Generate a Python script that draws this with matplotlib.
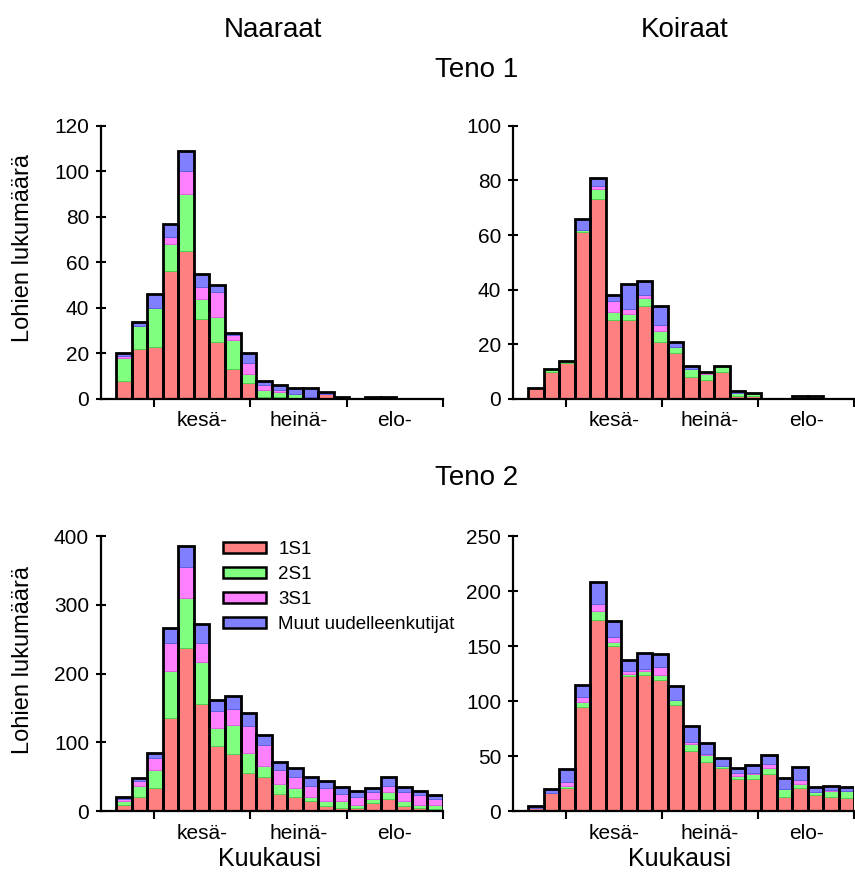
import numpy as np
import matplotlib
matplotlib.use("Agg")
import matplotlib.pyplot as plt
from matplotlib.patches import Patch

plt.rcParams['font.family'] = ['Liberation Sans', 'DejaVu Sans']

# 5 day periods, 21 bins starting late May
n_bins = 21
series_names = ['1S1', '2S1', '3S1', 'Muut uudelleenkutijat']
colors = ['#ff8080', '#80ff80', '#ff80ff', '#8080ff']
edge_colors = ['#e06060', '#50d050', '#e060e0', '#6060e0']
month_labels = ['kesä-', 'heinä-', 'elo-']

# Teno 1, naaraat
t1_f_1s1 = [8, 22, 23, 56, 65, 35, 25, 13, 7, 1, 1, 0, 0, 2, 0, 0, 1, 0, 0, 0, 0]
t1_f_2s1 = [10, 10, 17, 12, 25, 9, 11, 13, 4, 3, 2, 2, 0, 0, 1, 0, 0, 0, 0, 0, 0]
t1_f_3s1 = [1, 0, 0, 3, 10, 5, 11, 2, 5, 2, 1, 0, 1, 0, 0, 0, 0, 0, 0, 0, 0]
t1_f_muut = [1, 2, 6, 6, 9, 6, 3, 1, 4, 2, 2, 3, 4, 1, 0, 0, 0, 1, 0, 0, 0]

# Teno 1, koiraat
t1_m_1s1 = [4, 10, 13, 61, 73, 29, 29, 34, 21, 17, 8, 7, 10, 1, 1, 0, 0, 0, 1, 0, 0]
t1_m_2s1 = [0, 1, 1, 1, 4, 3, 2, 3, 4, 2, 3, 2, 2, 1, 1, 0, 0, 1, 0, 0, 0]
t1_m_3s1 = [0, 0, 0, 0, 1, 4, 2, 1, 2, 0, 0, 1, 0, 0, 0, 0, 0, 0, 0, 0, 0]
t1_m_muut = [0, 0, 0, 4, 3, 2, 9, 5, 7, 2, 1, 0, 0, 1, 0, 0, 0, 0, 0, 0, 0]

# Teno 2, naaraat
t2_f_1s1 = [9, 20, 34, 136, 237, 155, 95, 83, 55, 49, 25, 21, 14, 8, 5, 4, 11, 17, 7, 4, 3]
t2_f_2s1 = [6, 17, 26, 67, 73, 62, 26, 42, 29, 16, 14, 12, 7, 6, 9, 5, 6, 11, 8, 5, 6]
t2_f_3s1 = [2, 6, 17, 41, 45, 28, 25, 23, 40, 31, 20, 16, 16, 19, 11, 11, 10, 9, 13, 14, 8]
t2_f_muut = [3, 5, 7, 22, 30, 27, 15, 19, 18, 15, 12, 13, 13, 10, 10, 9, 7, 13, 7, 6, 6]

# Teno 2, koiraat
t2_m_1s1 = [3, 16, 21, 95, 174, 150, 123, 124, 119, 96, 55, 45, 39, 29, 29, 34, 13, 21, 15, 13, 12]
t2_m_2s1 = [0, 0, 2, 4, 8, 4, 2, 3, 5, 5, 6, 6, 2, 3, 5, 5, 7, 4, 2, 5, 6]
t2_m_3s1 = [0, 0, 3, 5, 6, 4, 2, 2, 7, 0, 2, 1, 0, 3, 1, 4, 0, 3, 0, 1, 0]
t2_m_muut = [2, 4, 12, 11, 20, 15, 10, 15, 12, 13, 14, 10, 7, 4, 7, 8, 10, 12, 5, 4, 4]

# month boundaries in bin units (kesäkuu, heinäkuu, elokuu, syyskuu)
month_starts = [2.45, 8.63, 14.82, 21.0]

fig = plt.figure(figsize=(8.55, 8.73), dpi=100)


def draw_panel(rect, layers, ymax, ystep, legend=False):
    ax = fig.add_axes(rect)
    x = np.arange(n_bins) + 0.5
    bottom = np.zeros(n_bins)
    for vals, c, ec in zip(layers, colors, edge_colors):
        vals = np.array(vals, dtype=float)
        ax.bar(x, vals, width=1.0, bottom=bottom, color=c,
               edgecolor=ec, linewidth=0.7, zorder=2)
        bottom += vals
    # black outline around each whole bar
    ax.bar(x, bottom, width=1.0, facecolor='none', edgecolor='black',
           linewidth=2.0, zorder=3)

    ax.set_xlim(-0.97, 21.0)
    ax.set_ylim(0, ymax)
    ax.set_yticks(np.arange(0, ymax + 1, ystep))
    ax.set_xticks(month_starts)
    ax.set_xticklabels([])
    mids = [(a + b) / 2 for a, b in zip(month_starts[:-1], month_starts[1:])]
    ax.set_xticks(mids, minor=True)
    ax.set_xticklabels(month_labels, minor=True)
    ax.tick_params(axis='x', which='minor', length=0, pad=9, labelsize=15)
    ax.tick_params(axis='x', which='major', direction='out', length=6, width=1.5)
    ax.tick_params(axis='y', direction='inout', length=7, width=1.5,
                   pad=5, labelsize=15)
    for s in ['top', 'right']:
        ax.spines[s].set_visible(False)
    for s in ['left', 'bottom']:
        ax.spines[s].set_linewidth(1.6)
    ax.patch.set_alpha(0)

    if legend:
        handles = [Patch(facecolor=c, edgecolor='black', linewidth=1.8)
                   for c in colors]
        ax.legend(handles, series_names, loc='upper left',
                  bbox_to_anchor=(0.335, 1.008), frameon=False, fontsize=13.5,
                  handlelength=2.3, handleheight=0.5, handletextpad=0.65,
                  labelspacing=0.42, borderaxespad=0)
    return ax


draw_panel([0.118, 0.543, 0.400, 0.313],
           [t1_f_1s1, t1_f_2s1, t1_f_3s1, t1_f_muut], 120, 20)
draw_panel([0.600, 0.543, 0.399, 0.313],
           [t1_m_1s1, t1_m_2s1, t1_m_3s1, t1_m_muut], 100, 20)
draw_panel([0.118, 0.071, 0.400, 0.315],
           [t2_f_1s1, t2_f_2s1, t2_f_3s1, t2_f_muut], 400, 100, legend=True)
draw_panel([0.600, 0.071, 0.399, 0.315],
           [t2_m_1s1, t2_m_2s1, t2_m_3s1, t2_m_muut], 250, 50)

fig.text(0.319, 0.966, 'Naaraat', ha='center', va='center', fontsize=20)
fig.text(0.801, 0.966, 'Koiraat', ha='center', va='center', fontsize=20)
fig.text(0.557, 0.920, 'Teno 1', ha='center', va='center', fontsize=20)
fig.text(0.557, 0.452, 'Teno 2', ha='center', va='center', fontsize=20)
fig.text(0.027, 0.716, 'Lohien lukumäärä', rotation=90, ha='center',
         va='center', fontsize=17)
fig.text(0.027, 0.244, 'Lohien lukumäärä', rotation=90, ha='center',
         va='center', fontsize=17)
fig.text(0.315, 0.016, 'Kuukausi', ha='center', va='center', fontsize=18)
fig.text(0.795, 0.016, 'Kuukausi', ha='center', va='center', fontsize=18)

fig.savefig('out.png', dpi=100)
